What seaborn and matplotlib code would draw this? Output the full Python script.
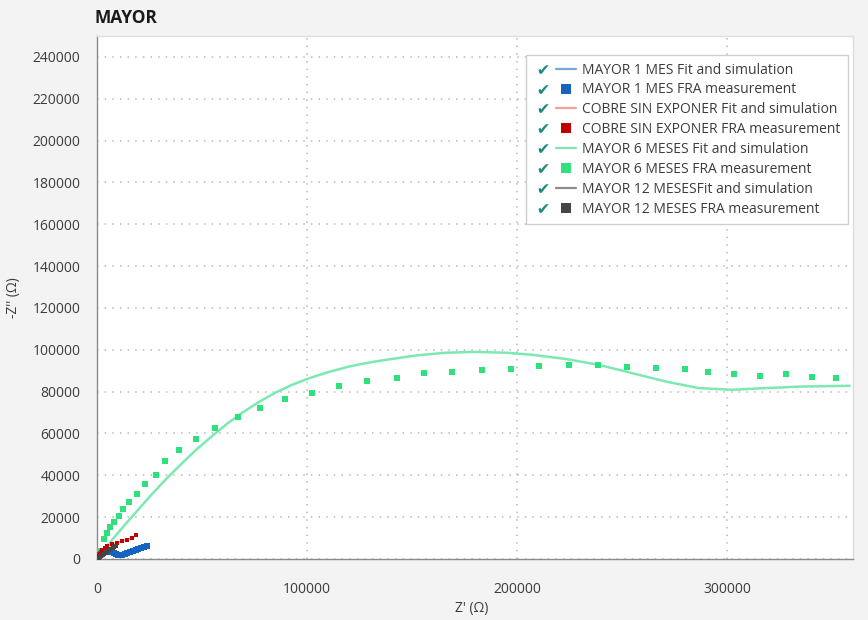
import matplotlib
matplotlib.use("Agg")
import matplotlib.pyplot as plt
from matplotlib.lines import Line2D
from matplotlib.legend_handler import HandlerTuple
from matplotlib.ticker import MultipleLocator
import seaborn as sns
import pandas as pd

# ---------------- data (values in kilo-ohms) ----------------
title = "MAYOR"
x_label = "Z' (Ω)"
y_label = "-Z'' (Ω)"

# MAYOR 1 MES
m1_meas_re = [0.0, 0.3, 0.7, 1.2, 1.8, 2.5, 3.3, 4.2, 5.1, 6.0, 7.0, 8.0, 9.0, 10.0,
              11.0, 12.0, 13.2, 14.5, 15.8, 17.1, 18.4, 19.7, 21.0, 22.3, 23.6]
m1_meas_im = [0.0, 0.6, 1.2, 1.8, 2.4, 2.9, 3.3, 3.5, 3.6, 3.5, 3.2, 2.8, 2.4, 2.1,
              1.9, 1.9, 2.2, 2.7, 3.3, 3.9, 4.5, 5.0, 5.4, 5.7, 6.0]
m1_fit_re = [0.0, 1.2, 3.3, 6.0, 8.0, 10.0, 12.0, 14.5, 17.1, 19.7, 22.3, 23.6]
m1_fit_im = [0.0, 1.8, 3.3, 3.6, 2.8, 2.1, 1.9, 2.7, 3.9, 5.0, 5.7, 6.0]

# COBRE SIN EXPONER
cu_meas_re = [0.0, 0.5, 1.2, 2.5, 3.7, 4.9, 7.2, 9.6, 12.0, 14.4, 16.6, 18.8]
cu_meas_im = [0.0, 1.3, 2.6, 4.4, 5.3, 6.1, 7.2, 7.7, 8.5, 9.3, 10.2, 11.3]
cu_fit_re = [0.0, 1.2, 3.7, 7.2, 12.0, 16.6, 18.8]
cu_fit_im = [0.0, 2.6, 5.3, 7.2, 8.5, 10.2, 11.3]

# MAYOR 6 MESES
m6_meas_re = [0.0, 1.2, 3.1, 4.7, 6.3, 8.3, 10.6, 12.6, 15.4, 19.0, 23.0, 28.0, 32.2,
              39.2, 47.3, 56.4, 67.0, 77.8, 89.4, 102.4, 115.2, 128.4, 142.7, 155.7,
              169.2, 183.5, 197.0, 210.5, 224.8, 238.7, 252.6, 266.2, 280.0, 290.8,
              303.5, 315.9, 328.2, 340.4, 352.0]
m6_meas_im = [0.0, 3.8, 9.4, 12.6, 15.2, 17.8, 20.6, 23.8, 27.3, 31.1, 35.7, 40.3, 47.0,
              52.2, 57.4, 62.8, 67.8, 72.1, 76.4, 79.2, 82.9, 85.1, 86.5, 88.7,
              89.5, 90.3, 90.6, 92.2, 92.5, 92.5, 92.0, 91.5, 90.9, 89.5,
              88.5, 87.7, 88.2, 86.9, 86.6]
m6_fit_re = [0.0, 2.0, 5.0, 9.0, 14.0, 20.0, 26.0, 32.7, 40.0, 47.0, 54.6, 62.0, 69.0,
             77.0, 85.1, 93.0, 101.0, 110.0, 120.0, 130.0, 139.0, 152.0, 166.0, 180.0,
             195.0, 207.3, 223.3, 239.0, 255.0, 271.0, 286.6, 302.7, 318.6, 334.5, 358.4]
m6_fit_im = [0.0, 2.6, 6.4, 11.3, 17.2, 24.0, 30.8, 38.0, 45.3, 52.0, 58.6, 64.7, 69.8,
             75.0, 79.6, 83.3, 86.4, 89.3, 92.0, 94.0, 95.4, 97.3, 98.6, 99.0,
             98.6, 97.6, 95.6, 92.8, 88.8, 84.8, 81.7, 80.9, 81.7, 82.4, 82.8]

# MAYOR 12 MESES
m12_meas_re = [0.0, 0.4, 0.9, 1.5, 2.1, 2.8, 3.5, 4.2, 5.0, 5.8, 6.6, 7.4, 8.2, 9.0]
m12_meas_im = [0.0, 0.2, 0.5, 0.9, 1.3, 1.8, 2.4, 3.0, 3.6, 4.2, 4.8, 5.4, 5.9, 6.3]
m12_fit_re = [0.0, 1.5, 3.5, 5.8, 7.4, 9.0]
m12_fit_im = [0.0, 0.9, 2.4, 4.2, 5.4, 6.3]

labels = ["MAYOR 1 MES Fit and simulation", "MAYOR 1 MES FRA measurement",
          "COBRE SIN EXPONER Fit and simulation", "COBRE SIN EXPONER FRA measurement",
          "MAYOR 6 MESES Fit and simulation", "MAYOR 6 MESES FRA measurement",
          "MAYOR 12 MESESFit and simulation", "MAYOR 12 MESES FRA measurement"]

x_ticks = [0, 100000, 200000, 300000]
y_ticks = list(range(0, 240001, 20000))

# ---------------- style ----------------
sns.set_style("white")
plt.rcParams["font.family"] = ["Open Sans", "DejaVu Sans"]

c_fit1, c_meas1 = "#7aa8d6", "#1565c0"
c_fit2, c_meas2 = "#f4a0a0", "#c00000"
c_fit3, c_meas3 = "#7ce9b2", "#2fe07c"
c_fit4, c_meas4 = "#8c8c8c", "#454545"
check_col = "#1b8c80"
txt_col = "#3c3c3c"

fig = plt.figure(figsize=(8.68, 6.20), dpi=100, facecolor="#f3f3f3")
ax = fig.add_axes([97 / 868, 1 - 559 / 620, 756 / 868, 523 / 620])
ax.set_facecolor("white")

def k(v):
    return [x * 1000 for x in v]

def fitline(xs, ys, col, lw, z):
    d = pd.DataFrame({"x": k(xs), "y": k(ys)})
    sns.lineplot(data=d, x="x", y="y", sort=False, estimator=None, color=col,
                 linewidth=lw, ax=ax, zorder=z)

def meas(xs, ys, col, s, z):
    d = pd.DataFrame({"x": k(xs), "y": k(ys)})
    sns.scatterplot(data=d, x="x", y="y", marker="s", s=s, color=col,
                    linewidth=0, ax=ax, zorder=z)

fitline(m6_fit_re, m6_fit_im, c_fit3, 1.8, 3)
meas(m6_meas_re, m6_meas_im, c_meas3, 13, 4)
fitline(m1_fit_re, m1_fit_im, c_fit1, 1.2, 3)
fitline(m1_meas_re, m1_meas_im, c_meas1, 3.4, 4)
meas(m1_meas_re, m1_meas_im, c_meas1, 13, 4)
fitline(cu_fit_re, cu_fit_im, c_fit2, 1.2, 3)
meas(cu_meas_re, cu_meas_im, c_meas2, 12, 5)
fitline(m12_fit_re, m12_fit_im, c_fit4, 1.2, 5)
fitline(m12_meas_re, m12_meas_im, c_meas4, 3.0, 6)
meas(m12_meas_re, m12_meas_im, c_meas4, 12, 6)

ax.set_xlim(0, 360000)
ax.set_ylim(0, 250000)
ax.set_xticks(x_ticks)
ax.set_yticks(y_ticks)
ax.xaxis.set_minor_locator(MultipleLocator(20000))
ax.yaxis.set_minor_locator(MultipleLocator(4000))
ax.tick_params(axis="both", which="major", length=8.5, width=0.9, color="#8a8a8a",
               labelsize=10, labelcolor=txt_col)
ax.tick_params(axis="both", which="minor", length=4.3, width=0.9, color="#8a8a8a")
ax.tick_params(axis="x", which="major", pad=8)
ax.tick_params(axis="y", which="major", pad=3.5)
ax.grid(True, which="major", linestyle=(0, (1, 4)), color="#b8b8b8", linewidth=1.1)

for side in ["left", "bottom"]:
    ax.spines[side].set_color("#8a8a8a")
    ax.spines[side].set_linewidth(1.0)
for side in ["top", "right"]:
    ax.spines[side].set_color("#dcdcdc")
    ax.spines[side].set_linewidth(1.0)

ax.set_xlabel(x_label, fontsize=10, color=txt_col)
ax.set_ylabel(y_label, fontsize=10, color=txt_col)
ax.xaxis.set_label_coords(0.495, -0.08)
ax.yaxis.set_label_coords(-0.101, 0.5)

fig.text(95 / 868, 1 - 18 / 620, title, fontsize=12.5, fontweight="bold",
         color="#1a1a1a", va="center", ha="left")

# ---------------- legend ----------------
def chk():
    return Line2D([], [], linestyle="none", marker="$\u2714$", markersize=7,
                  color=check_col, markeredgewidth=0)

handles = []
series_cols = [(c_fit1, c_meas1), (c_fit2, c_meas2), (c_fit3, c_meas3), (c_fit4, c_meas4)]
for fc, mc in series_cols:
    handles.append((chk(), Line2D([], [], color=fc, linewidth=1.6)))
    handles.append((chk(), Line2D([], [], linestyle="none", marker="s", markersize=7,
                                  color=mc, markeredgewidth=0)))

leg = ax.legend(handles, labels, handler_map={tuple: HandlerTuple(ndivide=2, pad=0.2)},
                loc="upper right", bbox_to_anchor=(0.9934, 0.9637), borderaxespad=0,
                fontsize=10.0, handlelength=3.1, handletextpad=0.4, labelspacing=0.35,
                borderpad=0.55, frameon=True, fancybox=False, framealpha=1)
leg.get_frame().set_edgecolor("#cfcfcf")
leg.get_frame().set_linewidth(1.0)
for t in leg.get_texts():
    t.set_color(txt_col)

fig.savefig("out.png", dpi=100, facecolor=fig.get_facecolor())
